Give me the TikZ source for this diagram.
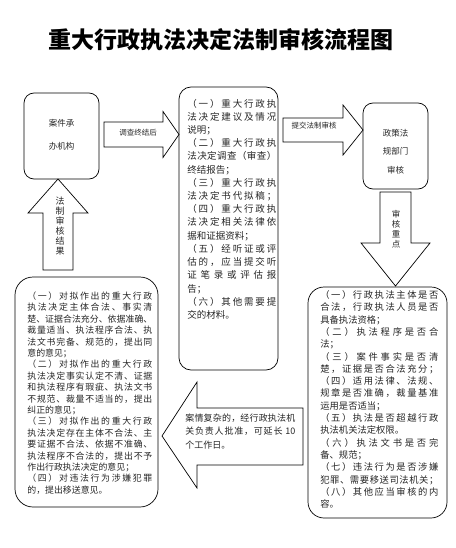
\documentclass[tikz,border=0pt]{standalone}
\usepackage{fontspec}
\newfontfamily\cjk{Noto Sans CJK SC}
\makeatletter
\def\jst@end{\jst@end@}
\def\jst#1{\hbox to \hsize{\jst@b#1\jst@end}}
\def\jst@b#1{#1\jst@a}
\def\jst@a#1{\ifx\jst@end#1\else\hskip 0pt plus 1fil #1\expandafter\jst@a\fi}
\def\nl#1{\hbox{#1}}
\newcommand\tblock[3]{\vtop{\hsize=#1\baselineskip=#2\lineskiplimit=-1000pt\lineskip=0pt\parindent=0pt\relax #3}}
\makeatother
\begin{document}
\begin{tikzpicture}[x=1pt,y=-1pt,line width=0.7pt,
  rbox/.style={draw=black,inner sep=0pt,outer sep=0pt,anchor=north west},
  blockarrow/.style={draw=black,fill=white,line join=miter},
  bodytext/.style={inner sep=0pt,anchor=base west,text=black!85,font=\cjk\fontsize{#1}{12}\selectfont},
  label/.style={inner sep=0pt,text=black!85,font=\cjk\fontsize{#1}{10}\selectfont},
  vtext/.style={inner sep=0pt,align=center,text=black!85,font=\cjk\fontsize{#1}{10}\selectfont}]
\useasboundingbox (0,0) rectangle (455,548);
% title
\node[inner sep=0pt,anchor=base,font=\cjk\bfseries\fontsize{23}{26}\selectfont] (title) at (221,48.5) {重大行政执法决定法制审核流程图};
% boxes
\node[rbox,rounded corners=10pt,minimum width=75pt,minimum height=86pt] (b1) at (24,93) {};
\node[rbox,rounded corners=12pt,minimum width=99pt,minimum height=283pt] (b2) at (179,87) {};
\node[rbox,rounded corners=10pt,minimum width=65pt,minimum height=86pt] (b3) at (363,103) {};
\node[rbox,rounded corners=18pt,minimum width=143pt,minimum height=230pt] (b4) at (15,277) {};
\node[rbox,rounded corners=16pt,minimum width=139pt,minimum height=231pt] (b5) at (308,287) {};
% block arrows
\draw[blockarrow] (104,122) -- (163,122) -- (163,111.5) -- (b2.west |- 0,134.5) -- (163,157.5) -- (163,147) -- (104,147) -- cycle;
\draw[blockarrow] (283,118) -- (343,118) -- (343,105) -- (b3.west |- 0,130) -- (343,155) -- (343,142) -- (283,142) -- cycle;
\draw[blockarrow] (380,192) -- (380,243) -- (361,243) -- (395.5,286) -- (430,243) -- (411,243) -- (411,192) -- cycle;
\draw[blockarrow] (43,270) -- (43,213) -- (28,213) -- (b1.south -| 58,0) -- (88,213) -- (73,213) -- (73,270) -- cycle;
\draw[blockarrow] (303,408) -- (197,408) -- (197,382) -- (162,436) -- (197,488) -- (197,465) -- (303,465) -- cycle;
% box 1 text
\node[label=8.5] (t1a) at (61.5,123) {案件承};
\node[label=8.5] (t1b) at (61.5,146) {办机构};
% box 3 text
\node[label=8.5] (t3a) at (395.5,133) {政策法};
\node[label=8.5] (t3b) at (395.5,151.5) {规部门};
\node[label=8.5] (t3c) at (395.5,170) {审核};
% arrow labels
\node[label=7.5] (la) at (138,132.5) {调查终结后};
\node[label=7.5] (lb) at (314,126) {提交法制审核};
\node[vtext=8.5] (lc) at (396,229) {审\\核\\重\\点};
\node[vtext=9] (ld) at (60,226.5) {法\\制\\审\\核\\结\\果};
% box 2 text
\node[bodytext=9.5] (t2) at (187,107.2) {\tblock{89pt}{13.2pt}{%
\jst{（一）重大行政执}
\jst{法决定建议及情况}
\nl{说明；}
\jst{（二）重大行政执}
\jst{法决定调查（审查）}
\nl{终结报告；}
\jst{（三）重大行政执}
\jst{法决定书代拟稿；}
\jst{（四）重大行政执}
\jst{法决定相关法律依}
\nl{据和证据资料；}
\jst{（五）经听证或评}
\jst{估的，应当提交听}
\jst{证笔录或评估报}
\nl{告；}
\jst{（六）其他需要提}
\nl{交的材料。}}};
% box 4 text
\node[bodytext=8.9] (t4) at (27,299.4) {\tblock{125pt}{11.4pt}{%
\jst{（一）对拟作出的重大行政}
\jst{执法决定主体合法、事实清}
\jst{楚、证据合法充分、依据准确、}
\jst{裁量适当、执法程序合法、执}
\jst{法文书完备、规范的，提出同}
\nl{意的意见；}
\jst{（二）对拟作出的重大行政}
\jst{执法决定事实认定不清、证据}
\jst{和执法程序有瑕疵、执法文书}
\jst{不规范、裁量不适当的，提出}
\nl{纠正的意见；}
\jst{（三）对拟作出的重大行政}
\jst{执法决定存在主体不合法、主}
\jst{要证据不合法、依据不准确、}
\jst{执法程序不合法的，提出不予}
\nl{作出行政执法决定的意见；}
\jst{（四）对违法行为涉嫌犯罪}
\nl{的，提出移送意见。}}};
% box 5 text
\node[bodytext=9.3] (t5) at (320,298.5) {\tblock{118pt}{12.3pt}{%
\jst{（一）行政执法主体是否}
\jst{合法，行政执法人员是否}
\nl{具备执法资格；}
\jst{（二）执法程序是否合}
\nl{法；}
\jst{（三）案件事实是否清}
\jst{楚，证据是否合法充分；}
\jst{（四）适用法律、法规、}
\jst{规章是否准确，裁量基准}
\nl{运用是否适当；}
\jst{（五）执法是否超越行政}
\nl{执法机关法定权限。}
\jst{（六）执法文书是否完}
\nl{备、规范；}
\jst{（七）违法行为是否涉嫌}
\jst{犯罪、需要移送司法机关；}
\jst{（八）其他应当审核的内}
\nl{容。}}};
% arrow E text
\node[bodytext=9] (te) at (185,421.4) {\tblock{110pt}{13.5pt}{%
\jst{案情复杂的，经行政执法机}
\jst{关负责人批准，可延长{\ 10}}
\nl{个工作日。}}};
\end{tikzpicture}
\end{document}
